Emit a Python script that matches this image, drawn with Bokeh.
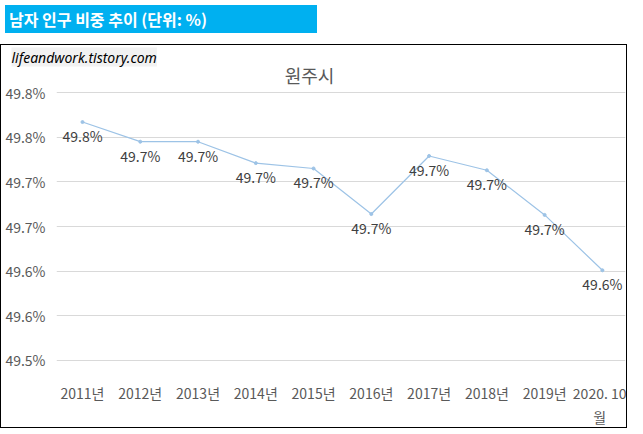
from bokeh.plotting import figure
from bokeh.models import Label, Div, FixedTicker, ColumnDataSource, Title
from bokeh.layouts import column
from bokeh.embed import file_html
from bokeh.resources import INLINE
from bokeh.core.properties import value

years = ["2011년", "2012년", "2013년", "2014년", "2015년", "2016년", "2017년", "2018년", "2019년", "2020. 10\n월"]
ratio = [49.767, 49.745, 49.745, 49.721, 49.715, 49.664, 49.729, 49.713, 49.663, 49.601]
labels = ["49.8%", "49.7%", "49.7%", "49.7%", "49.7%", "49.7%", "49.7%", "49.7%", "49.7%", "49.6%"]
yticks = [49.50, 49.55, 49.60, 49.65, 49.70, 49.75, 49.80]
ytick_labels = ["49.5%", "49.6%", "49.6%", "49.7%", "49.7%", "49.8%", "49.8%"]

xs = list(range(len(years)))
src = ColumnDataSource(dict(x=xs, y=ratio, t=labels))

p = figure(width=627, height=384, output_backend="svg", toolbar_location=None,
           x_range=(-0.45, 9.4), y_range=(49.4955, 49.8292),
           min_border_top=0, min_border_bottom=63, min_border_left=55, min_border_right=3,
           title=None)
p.add_layout(Title(text="lifeandwork.tistory.com", align="left", offset=-45, standoff=0,
                   text_font_size="14px", text_font_style="italic", text_color="#000000",
                   text_font="Noto Sans", background_fill_color="#F2F2F2"), "above")
p.styles = {"border": "1px solid #000000"}
p.outline_line_color = None
p.xgrid.grid_line_color = None
p.ygrid.grid_line_color = "#D9D9D9"
p.yaxis.ticker = FixedTicker(ticks=yticks)
p.yaxis.major_label_overrides = {t: l for t, l in zip(yticks, ytick_labels)}
p.xaxis.ticker = FixedTicker(ticks=xs)
p.xaxis.major_label_overrides = {i: y for i, y in enumerate(years)}
for ax in (p.xaxis, p.yaxis):
    ax.axis_line_color = None
    ax.major_tick_line_color = None
    ax.minor_tick_line_color = None
    ax.major_label_text_color = "#595959"
    ax.major_label_text_font_size = "14px"
    ax.major_label_text_font = "Noto Sans CJK KR"
p.xaxis.major_label_standoff = 12

p.line("x", "y", source=src, line_color="#9DC3E6", line_width=1.2)
p.scatter("x", "y", source=src, size=3, color="#9DC3E6")
p.text("x", "y", text="t", source=src, y_offset=14, text_align="center", text_baseline="middle",
       text_font_size="14px", text_color="#404040", text_font=value("Noto Sans CJK KR"))

p.add_layout(Label(x=3.93, y=49.820, text="원주시",
                   text_align="center", text_baseline="middle", text_font_size="18px",
                   text_color="#595959", text_font="Noto Sans CJK KR"))

div = Div(text="남자 인구 비중 추이 (단위: %)", width=312, height=28,
          styles={"background-color": "#00B0F0", "color": "white", "font-weight": "bold",
                  "font-size": "16px", "font-family": "Noto Sans CJK KR", "padding-left": "4px",
                  "line-height": "28px"})

layout = column(div, p, spacing=6)
open("out.html", "w").write(file_html(layout, INLINE))
